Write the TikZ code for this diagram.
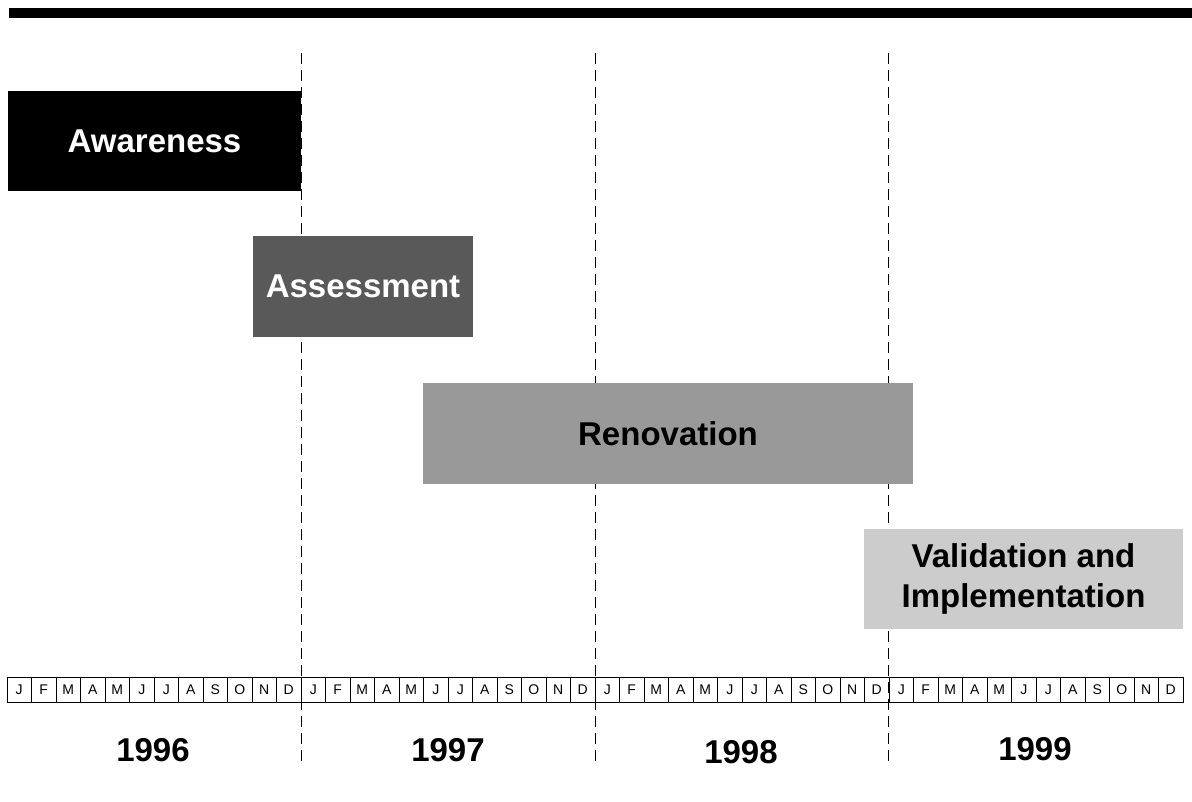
\documentclass[tikz,border=0pt]{standalone}
\usepackage{fontspec}
\setmainfont{Liberation Sans}
\definecolor{darkbox}{HTML}{595959}
\definecolor{midbox}{HTML}{999999}
\definecolor{lightbox}{HTML}{CCCCCC}
\begin{document}
\begin{tikzpicture}[x=1pt,y=-1pt,
  phase/.style={inner sep=0pt,outer sep=0pt,font=\fontsize{33}{40}\selectfont\bfseries,align=center},
  month/.style={draw=black,line width=0.9pt,minimum width=24.5pt,minimum height=25pt,inner sep=0pt,outer sep=0pt,font=\fontsize{14}{16}\selectfont},
  yearlbl/.style={font=\fontsize{33}{40}\selectfont\bfseries,inner sep=0pt},
  yearline/.style={line width=1pt,dash pattern=on 11pt off 6pt}]
\useasboundingbox (0,0) rectangle (1192,802);
\fill[black] (9,8) rectangle (1192,18);
% dashed year separators
\foreach \n/\x in {a/301,b/595,c/888}{
  \coordinate (top\n) at (\x,53);
  \coordinate (bot\n) at (\x,765);
  \draw[yearline] (top\n) -- (bot\n);
}
% phases
\node[phase,fill=black,text=white,minimum width=293pt,minimum height=100pt] (aware) at (154.5,141) {Awareness};
\node[phase,fill=darkbox,text=white,minimum width=220pt,minimum height=101pt] (assess) at (363,286.5) {Assessment};
\node[phase,fill=midbox,text=black,minimum width=490pt,minimum height=101pt] (renov) at (668,433.5) {Renovation};
\node[phase,fill=lightbox,text=black,minimum width=319pt,minimum height=100pt] (valid) at (1023.5,579) {Validation and\\Implementation};
% months
\foreach \m [count=\i from 0] in {J,F,M,A,M,J,J,A,S,O,N,D,J,F,M,A,M,J,J,A,S,O,N,D,J,F,M,A,M,J,J,A,S,O,N,D,J,F,M,A,M,J,J,A,S,O,N,D}{
  \node[month] (m\i) at ({7+24.5*\i+12.25},689.5) {\m};
}
% years
\node[yearlbl] (y96) at (153,750) {1996};
\node[yearlbl] (y97) at (448,750) {1997};
\node[yearlbl] (y98) at (741,752) {1998};
\node[yearlbl] (y99) at (1035,749.5) {1999};
\end{tikzpicture}
\end{document}
